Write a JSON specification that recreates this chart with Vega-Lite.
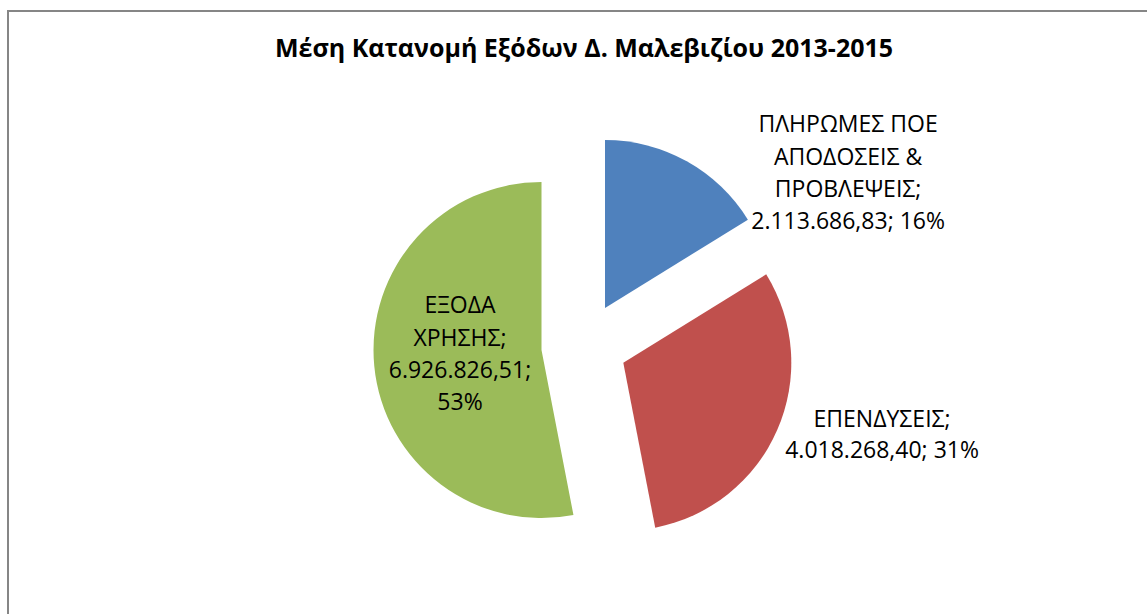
{
  "$schema": "https://vega.github.io/schema/vega-lite/v6.json",
  "autosize": "none",
  "padding": {"left": 8, "top": 11, "right": -21, "bottom": -27},
  "width": 1160,
  "height": 630,
  "background": "white",
  "title": {
    "text": "Μέση Κατανομή Εξόδων Δ. Μαλεβιζίου 2013-2015",
    "font": "Open Sans",
    "fontSize": 25,
    "fontWeight": "bold",
    "color": "#000000",
    "anchor": "middle",
    "baseline": "alphabetic",
    "offset": 0,
    "dx": -4,
    "dy": 72
  },
  "config": {
    "view": {"stroke": null}
  },
  "layer": [
    {
      "data": {"values": [{"frame": 1}]},
      "mark": {"type": "rect", "filled": false, "stroke": "#868686", "strokeWidth": 2},
      "encoding": {}
    },
    {
      "data": {
        "values": [
          {"idx": 1, "cat": "ΠΛΗΡΩΜΕΣ ΠΟΕ ΑΠΟΔΟΣΕΙΣ & ΠΡΟΒΛΕΨΕΙΣ", "value": 2113686.83, "label": "ΠΛΗΡΩΜΕΣ ΠΟΕ\nΑΠΟΔΟΣΕΙΣ &\nΠΡΟΒΛΕΨΕΙΣ;\n2.113.686,83; 16%"},
          {"idx": 2, "cat": "ΕΠΕΝΔΥΣΕΙΣ", "value": 4018268.40, "label": "ΕΠΕΝΔΥΣΕΙΣ;\n4.018.268,40; 31%"},
          {"idx": 3, "cat": "ΕΞΟΔΑ ΧΡΗΣΗΣ", "value": 6926826.51, "label": "ΕΞΟΔΑ\nΧΡΗΣΗΣ;\n6.926.826,51;\n53%"}
        ]
      },
      "encoding": {
        "theta": {"field": "value", "type": "quantitative", "stack": true},
        "order": {"field": "idx", "type": "quantitative"},
        "color": {
          "field": "cat",
          "type": "nominal",
          "scale": {
            "domain": ["ΠΛΗΡΩΜΕΣ ΠΟΕ ΑΠΟΔΟΣΕΙΣ & ΠΡΟΒΛΕΨΕΙΣ", "ΕΠΕΝΔΥΣΕΙΣ", "ΕΞΟΔΑ ΧΡΗΣΗΣ"],
            "range": ["#4F81BD", "#C0504D", "#9BBB59"]
          },
          "legend": null
        }
      },
      "layer": [
        {
          "mark": {"type": "arc", "outerRadius": 168, "xOffset": 17, "yOffset": -18},
          "encoding": {"opacity": {"condition": {"test": "datum.idx === 1", "value": 1}, "value": 0}}
        },
        {
          "mark": {"type": "arc", "outerRadius": 168, "xOffset": 35.3, "yOffset": 36.7},
          "encoding": {"opacity": {"condition": {"test": "datum.idx === 2", "value": 1}, "value": 0}}
        },
        {
          "mark": {"type": "arc", "outerRadius": 168, "xOffset": -46.5, "yOffset": 24},
          "encoding": {"opacity": {"condition": {"test": "datum.idx === 3", "value": 1}, "value": 0}}
        },
        {
          "mark": {"type": "text", "radius": 168, "xOffset": 17, "yOffset": -18, "dx": 161.3, "dy": -28.9, "align": "center", "baseline": "alphabetic", "lineBreak": "\n", "lineHeight": 32.3, "font": "Open Sans", "fontSize": 23, "fill": "#000000"},
          "encoding": {
            "text": {"field": "label"},
            "color": {"value": "#000000"},
            "opacity": {"condition": {"test": "datum.idx === 1", "value": 1}, "value": 0}
          }
        },
        {
          "mark": {"type": "text", "radius": 168, "xOffset": 35.3, "yOffset": 36.7, "dx": 104.9, "dy": -3.5, "align": "center", "baseline": "alphabetic", "lineBreak": "\n", "lineHeight": 31.6, "font": "Open Sans", "fontSize": 23, "fill": "#000000"},
          "encoding": {
            "text": {"field": "label"},
            "color": {"value": "#000000"},
            "opacity": {"condition": {"test": "datum.idx === 2", "value": 1}, "value": 0}
          }
        },
        {
          "mark": {"type": "text", "radius": 84, "xOffset": -46.5, "yOffset": 24, "dx": 2.1, "dy": -44.7, "align": "center", "baseline": "alphabetic", "lineBreak": "\n", "lineHeight": 32.2, "font": "Open Sans", "fontSize": 23, "fill": "#000000"},
          "encoding": {
            "text": {"field": "label"},
            "color": {"value": "#000000"},
            "opacity": {"condition": {"test": "datum.idx === 3", "value": 1}, "value": 0}
          }
        }
      ]
    }
  ]
}
